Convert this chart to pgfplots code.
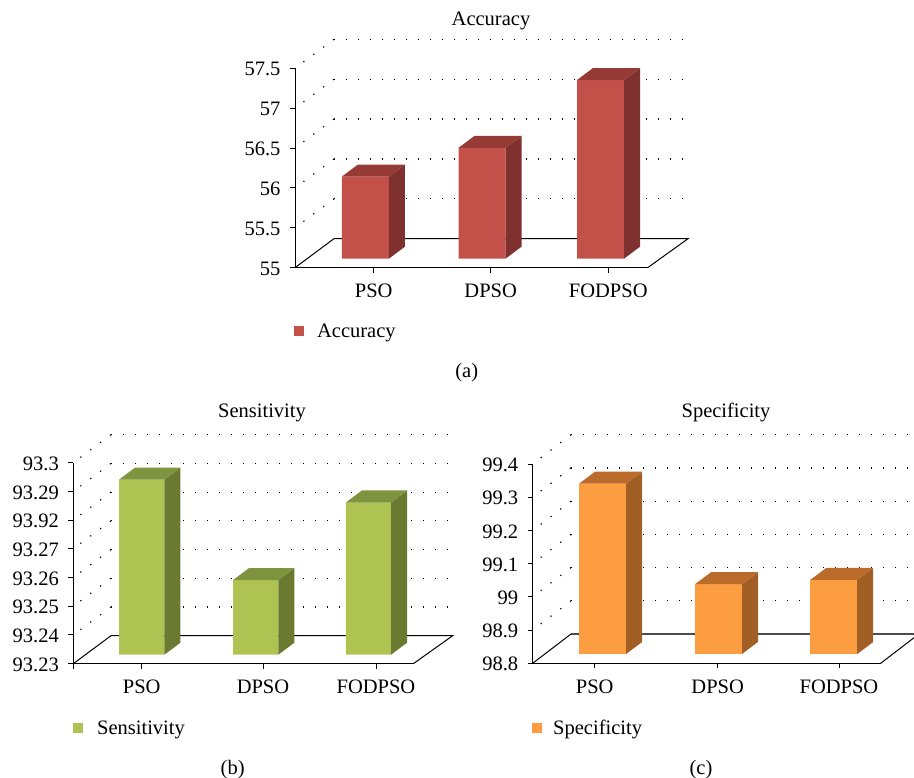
\documentclass[border=0pt]{standalone}
\usepackage{fontspec}
\setmainfont{Liberation Serif}
\usepackage{pgfplots}
\pgfplotsset{compat=1.18}
\newcommand{\F}{\fontsize{20.5}{24}\selectfont}
\definecolor{rf}{HTML}{C4504A}\definecolor{rt}{HTML}{963A36}\definecolor{rs}{HTML}{7F312F}
\definecolor{gf}{HTML}{AFC353}\definecolor{gt}{HTML}{7F943F}\definecolor{gs}{HTML}{6A7B31}
\definecolor{of}{HTML}{FD9D41}\definecolor{ot}{HTML}{BC6C2A}\definecolor{os}{HTML}{A15E25}
% #1 centre x, #2 value, #3 half width, #4 base value, #5 depth in y units, #6 top colour, #7 side colour, #8 base shift
\newcommand{\cube}[8]{%
 \pgfmathsetmacro\xa{#1-#3}\pgfmathsetmacro\xb{#1+#3}%
 \pgfmathsetmacro\xc{#1+#3+16}\pgfmathsetmacro\xd{#1-#3+16}%
 \pgfmathsetmacro\vu{#2+#5}\pgfmathsetmacro\bu{#4+#5}%
 \addplot[fill=#7,draw=none,forget plot,yshift=#8pt] coordinates {(\xb,#4)(\xc,\bu)(\xc,\vu)(\xb,#2)} --cycle;
 \addplot[fill=#6,draw=none,forget plot,yshift=#8pt] coordinates {(\xa,#2)(\xb,#2)(\xc,\vu)(\xd,\vu)} --cycle;
}
% #1 value, #2 depth x, #3 depth y units, #4 right end
\newcommand{\wall}[4]{%
 \pgfmathsetmacro\vu{#1+#3}%
 \addplot[black,line width=1.2pt,dash pattern=on 1.2pt off 10.8pt,forget plot] coordinates {(#2,\vu)(#4,\vu)};
 \addplot[black,line width=1.2pt,dash pattern=on 1.2pt off 11.1pt,forget plot] coordinates {(#2,\vu)(0,#1)};
}
\pgfplotsset{chart/.style={
  scale only axis, anchor=south west, clip=false, enlargelimits=false,
  axis x line*=bottom, axis y line*=left, axis line style={black,line width=1pt,-},
  tick align=outside, major tick length=5pt, tick style={black,line width=1pt},
  xmin=0, ytick pos=left, xtick pos=bottom,
  tick label style={font=\F},
  xticklabel style={yshift=-8pt},
  yticklabel style={xshift=-6pt,yshift=-1pt},
  xticklabels={PSO,DPSO,FODPSO},
  title style={font=\F,anchor=center,inner sep=0pt},
  xlabel style={font=\F,anchor=center,inner sep=0pt},
  legend style={draw=none,fill=none,font=\F,anchor=west,inner sep=0pt,
    nodes={inner sep=0pt,anchor=base west}},
  legend cell align=left,
}}
\begin{document}
\begin{tikzpicture}[x=1pt,y=1pt]
\path[use as bounding box] (0pt,0pt) rectangle (914pt,778pt);
% ---------- (a)
\begin{axis}[chart, at={(295pt,510.3pt)}, width=352.7pt, height=199.4pt,
  xmax=352.7, ymin=55, ymax=57.5,
  xtick={78.7,195.7,313.3},
  ytick={55,55.5,56,56.5,57,57.5}, yticklabels={55,55.5,56,56.5,57,57.5},
  title={Accuracy}, title style={at={(axis description cs:0.5557,1.207)}},
  xlabel={(a)}, xlabel style={at={(axis description cs:0.4868,-0.5265)}},
  legend style={at={(axis description cs:-0.003,-0.3175)}},
  legend image code/.code={\fill[rf] (0pt,-8pt) rectangle (10pt,2pt); \path (23pt,0pt);},
]
\wall{55.5}{39}{0.3636}{393}\wall{56}{39}{0.3636}{393}\wall{56.5}{39}{0.3636}{393}\wall{57}{39}{0.3636}{393}\wall{57.5}{39}{0.3636}{393}
\addplot[black,line width=1pt,forget plot] coordinates {(0,55)(39,55.3636)(393,55.3636)(352.7,55)};
\addplot[ybar,bar width=47pt,fill=rf,draw=none,yshift=9pt] coordinates {(70.4,56.03)(187,56.39)(305.5,57.24)};
\addlegendentry{Accuracy}
\cube{70.4}{56.03}{23.5}{55}{0.15045}{rt}{rs}{9}
\cube{187}{56.39}{23.5}{55}{0.15045}{rt}{rs}{9}
\cube{305.5}{57.24}{23.5}{55}{0.15045}{rt}{rs}{9}
\end{axis}
% ---------- (b)
\begin{axis}[chart, at={(73.3pt,114.3pt)}, width=340pt, height=201pt,
  xmax=340, ymin=93.23, ymax=93.30,
  xtick={68.4,189.7,302.7}, extra x ticks={0}, extra x tick labels={},
  ytick={93.23,93.24,93.25,93.26,93.27,93.28,93.29,93.30},
  yticklabels={93.23,93.24,93.25,93.26,93.27,93.92,93.29,93.3},
  title={Sensitivity}, title style={at={(axis description cs:0.555,1.217)}},
  xlabel={(b)}, xlabel style={at={(axis description cs:0.4688,-0.529)}},
  legend style={at={(axis description cs:-0.001,-0.322)}},
  legend image code/.code={\fill[gf] (0pt,-8pt) rectangle (10pt,2pt); \path (24pt,0pt);},
]
\wall{93.24}{37.7}{0.00975}{379.4}\wall{93.25}{37.7}{0.00975}{379.4}\wall{93.26}{37.7}{0.00975}{379.4}\wall{93.27}{37.7}{0.00975}{379.4}\wall{93.28}{37.7}{0.00975}{379.4}\wall{93.29}{37.7}{0.00975}{379.4}\wall{93.30}{37.7}{0.00975}{379.4}
\addplot[black,line width=1pt,forget plot] coordinates {(0,93.23)(37.7,93.23975)(379.4,93.23975)(340,93.23)};
\addplot[ybar,bar width=45.3pt,fill=gf,draw=none,yshift=9pt] coordinates {(68.5,93.291)(182.4,93.256)(295.2,93.283)};
\addlegendentry{Sensitivity}
\cube{68.5}{93.291}{22.65}{93.23}{0.00418}{gt}{gs}{9}
\cube{182.4}{93.256}{22.65}{93.23}{0.00418}{gt}{gs}{9}
\cube{295.2}{93.283}{22.65}{93.23}{0.00418}{gt}{gs}{9}
\end{axis}
% ---------- (c)
\begin{axis}[chart, at={(532.7pt,114.7pt)}, width=348pt, height=199.3pt,
  xmax=348, ymin=98.8, ymax=99.4,
  xtick={62,185,306.3},
  ytick={98.8,98.9,99,99.1,99.2,99.3,99.4},
  yticklabels={98.8,98.9,99,99.1,99.2,99.3,99.4},
  title={Specificity}, title style={at={(axis description cs:0.5555,1.226)}},
  xlabel={(c)}, xlabel style={at={(axis description cs:0.4836,-0.5353)}},
  legend style={at={(axis description cs:-0.002,-0.3247)}},
  legend image code/.code={\fill[of] (0pt,-8pt) rectangle (10pt,2pt); \path (21pt,0pt);},
]
\wall{98.9}{38.3}{0.0882}{381.3}\wall{99}{38.3}{0.0882}{381.3}\wall{99.1}{38.3}{0.0882}{381.3}\wall{99.2}{38.3}{0.0882}{381.3}\wall{99.3}{38.3}{0.0882}{381.3}\wall{99.4}{38.3}{0.0882}{381.3}
\addplot[black!70,line width=1.5pt,forget plot] coordinates {(38.3,98.8882)(381.3,98.8882)};
\addplot[black,line width=1pt,forget plot] coordinates {(381.3,98.877)(348,98.8)};
\addplot[black,line width=1pt,forget plot] coordinates {(0,98.8)(38.3,98.8882)};
\addplot[ybar,bar width=47pt,fill=of,draw=none,yshift=9.3pt] coordinates {(69.95,99.313)(185.8,99.01)(301,99.023)};
\addlegendentry{Specificity}
\cube{69.95}{99.313}{23.5}{98.8}{0.03612}{ot}{os}{9.3}
\cube{185.8}{99.01}{23.5}{98.8}{0.03612}{ot}{os}{9.3}
\cube{301}{99.023}{23.5}{98.8}{0.03612}{ot}{os}{9.3}
\end{axis}
\end{tikzpicture}
\end{document}
